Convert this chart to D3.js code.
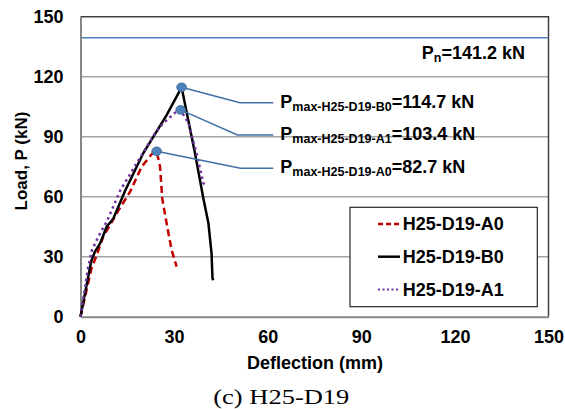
<!DOCTYPE html>
<html>
<head>
<meta charset="utf-8">
<script src="https://cdn.jsdelivr.net/npm/d3@7"></script>
<style>
  body { margin: 0; background: #fff; }
  text { font-family: "Liberation Sans", Arial, sans-serif; font-weight: bold; fill: #000; }
</style>
</head>
<body>
<div class="loadChart"></div>
<script>
var width = 565,
    height = 409;

// values
var xTicks = [0, 30, 60, 90, 120, 150];
var yTicks = [0, 30, 60, 90, 120, 150];

var series = ["H25-D19-A0", "H25-D19-B0", "H25-D19-A1"];

var deflA0 = [0, 3.5, 5, 7.3, 12.1, 15.9, 19.6, 22.8, 24.4, 25.5, 26.2, 27.6, 29.2, 30.8];
var loadA0 = [0, 24, 30, 40, 53, 62.5, 75, 81.2, 82.7, 75, 59, 46.7, 33.3, 25];

var deflB0 = [0, 3.4, 4.6, 6.3, 8.4, 10.5, 14.3, 20.1, 27.6, 32.4, 36.7, 39.4, 41, 42, 42.3, 42.6];
var loadB0 = [0, 27.5, 32.5, 36.7, 45, 49, 63, 81.7, 100.8, 114.7, 81.7, 59, 46.7, 31.7, 19.2, 18.3];

var deflA1 = [0, 2.5, 3.6, 5.7, 8.4, 12.7, 18.5, 23.9, 26.5, 30.3, 32.1, 34.6, 37.2, 39.4, 40];
var loadA1 = [0, 25, 33, 40, 47.5, 63, 78, 91.7, 96.7, 102, 103.4, 96.7, 81.7, 66.7, 65.5];

// peak points and the callout lines that point at them
var peakDefl = [24.4, 32.4, 32.1];
var peakLoad = [82.7, 114.7, 103.4];
var elbowDefl = [51.3, 51.1, 50.3];
var elbowLoad = [74.2, 107, 90.9];
var calloutEnd = 61.8;
var peakNames = ["max-H25-D19-A0", "max-H25-D19-B0", "max-H25-D19-A1"];
var peakText = ["=82.7 kN", "=114.7 kN", "=103.4 kN"];

var pnLine = 139.5;

var colors = ["#C00000", "#000000", "#7030A0"];
var dashes = ["7,4", null, "2.5,3.5"];

var svg = d3.select(".loadChart")
  .append("svg")
  .attr("width", width)
  .attr("height", height);

var x = d3.scaleLinear().domain([0, 150]).range([80.5, 548.5]);
var y = d3.scaleLinear().domain([0, 150]).range([316.7, 16.7]);

// gridlines
svg.selectAll(".grid")
  .data(yTicks.filter(function(d) { return d > 0 && d < 150; }))
  .enter()
  .append("line")
  .attr("x1", x(0)).attr("x2", x(150))
  .attr("y1", function(d) { return y(d); })
  .attr("y2", function(d) { return y(d); })
  .attr("stroke", "#A6A6A6")
  .attr("stroke-width", 1.5);

// top and right frame
svg.append("path")
  .attr("d", "M" + x(0) + "," + y(150) + "H" + x(150) + "V" + y(0))
  .attr("fill", "none")
  .attr("stroke", "#404040")
  .attr("stroke-width", 1.5);

// Pn line
svg.append("line")
  .attr("x1", x(0)).attr("x2", x(150))
  .attr("y1", y(pnLine)).attr("y2", y(pnLine))
  .attr("stroke", "#4F81BD")
  .attr("stroke-width", 1.5);

// axes
var xAxis = svg.append("g")
  .attr("transform", "translate(0," + y(0) + ")")
  .call(d3.axisBottom(x).tickValues(xTicks).tickSize(0).tickPadding(14));
var yAxis = svg.append("g")
  .attr("transform", "translate(" + x(0) + ",0)")
  .call(d3.axisLeft(y).tickValues(yTicks).tickSize(0).tickPadding(17));

[xAxis, yAxis].forEach(function(g) {
  g.select(".domain").attr("stroke", "#868686").attr("stroke-width", 2);
  g.selectAll("text")
    .attr("font-size", "18px")
    .attr("font-family", "Liberation Sans, Arial, sans-serif")
    .attr("font-weight", "bold")
    .attr("fill", "#000");
});

// curves
var line = d3.line()
  .x(function(d) { return x(d[0]); })
  .y(function(d) { return y(d[1]); });

var curves = [d3.zip(deflA0, loadA0), d3.zip(deflB0, loadB0), d3.zip(deflA1, loadA1)];

svg.selectAll(".curve")
  .data(curves)
  .enter()
  .append("path")
  .attr("class", "curve")
  .attr("d", line)
  .attr("fill", "none")
  .attr("stroke", function(d, i) { return colors[i]; })
  .attr("stroke-width", 2.5)
  .attr("stroke-dasharray", function(d, i) { return dashes[i]; });

// callouts
peakDefl.forEach(function(d, i) {
  svg.append("polyline")
    .attr("points", [
      [x(d), y(peakLoad[i])],
      [x(elbowDefl[i]), y(elbowLoad[i])],
      [x(calloutEnd), y(elbowLoad[i])]
    ].join(" "))
    .attr("fill", "none")
    .attr("stroke", "#3E6FA5")
    .attr("stroke-width", 1.5);
});

svg.selectAll(".peak")
  .data(peakDefl)
  .enter()
  .append("ellipse")
  .attr("cx", function(d) { return x(d); })
  .attr("cy", function(d, i) { return y(peakLoad[i]); })
  .attr("rx", 4.8)
  .attr("ry", 4.3)
  .attr("fill", "#4F81BD")
  .attr("stroke", "#41719C")
  .attr("stroke-width", 1);

peakDefl.forEach(function(d, i) {
  var t = svg.append("text")
    .attr("x", x(calloutEnd) + 7)
    .attr("y", y(elbowLoad[i]) + 5)
    .attr("font-size", "18px");
  t.append("tspan").text("P");
  t.append("tspan").attr("font-size", "12.5px").attr("dy", 3).text(peakNames[i]);
  t.append("tspan").attr("dy", -3).text(peakText[i]);
});

var pn = svg.append("text")
  .attr("x", 525)
  .attr("y", y(pnLine) + 21.5)
  .attr("text-anchor", "end")
  .attr("font-size", "18px");
pn.append("tspan").text("P");
pn.append("tspan").attr("font-size", "12.5px").attr("dy", 3).text("n");
pn.append("tspan").attr("dy", -3).text("=141.2 kN");

// legend
var legend = svg.append("g").attr("transform", "translate(350,207.3)");
legend.append("rect")
  .attr("width", 187.3)
  .attr("height", 99.4)
  .attr("fill", "#fff")
  .attr("stroke", "#262626")
  .attr("stroke-width", 1.2);

var items = legend.selectAll(".legend")
  .data(series)
  .enter()
  .append("g")
  .attr("transform", function(d, i) { return "translate(0," + (16.7 + i * 32.7) + ")"; });

items.append("line")
  .attr("x1", 28).attr("x2", 50)
  .attr("stroke", function(d, i) { return colors[i]; })
  .attr("stroke-width", function(d, i) { return i === 2 ? 2 : 2.5; })
  .attr("stroke-dasharray", function(d, i) { return i === 0 ? "5,3" : (i === 2 ? "2,2.5" : null); });

items.append("text")
  .attr("x", 52.7)
  .attr("dy", "0.35em")
  .attr("font-size", "18px")
  .text(function(d) { return d; });

// titles
svg.append("text")
  .attr("transform", "translate(27,161) rotate(-90)")
  .attr("text-anchor", "middle")
  .attr("font-size", "17px")
  .text("Load, P (kN)");

svg.append("text")
  .attr("x", 315)
  .attr("y", 369)
  .attr("text-anchor", "middle")
  .attr("font-size", "18px")
  .text("Deflection (mm)");

svg.append("text")
  .attr("x", 213.3)
  .attr("y", 404)
  .attr("textLength", 136)
  .attr("lengthAdjust", "spacingAndGlyphs")
  .attr("font-size", "21px")
  .style("font-family", "Liberation Serif, Times New Roman, serif")
  .style("font-weight", "normal")
  .text("(c) H25-D19");
</script>
</body>
</html>
